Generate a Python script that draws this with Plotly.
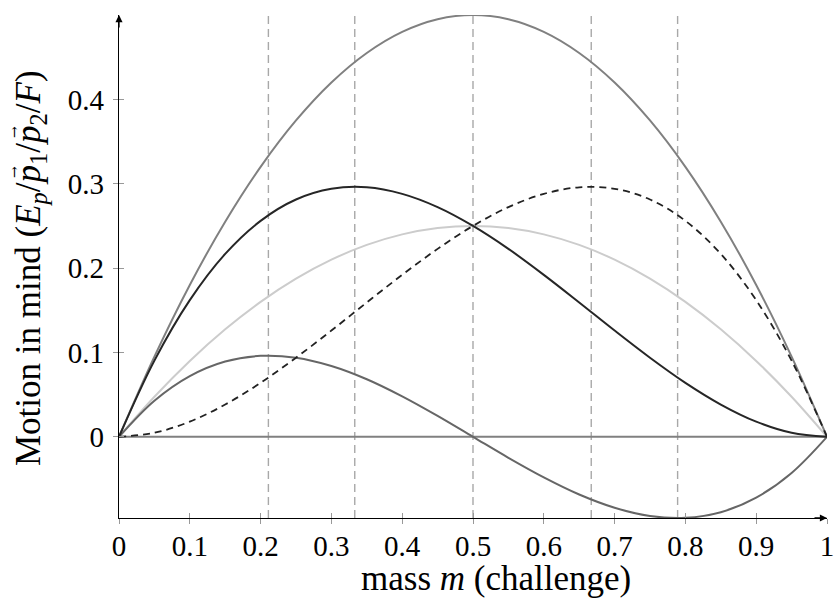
import plotly.graph_objects as go

# ---- data ----
mass = [0.0, 0.05, 0.1, 0.15, 0.2, 0.25, 0.3, 0.35, 0.4, 0.45, 0.5,
        0.55, 0.6, 0.65, 0.7, 0.75, 0.8, 0.85, 0.9, 0.95, 1.0]
top_curve = [0, 0.095, 0.18, 0.255, 0.32, 0.375, 0.42, 0.455, 0.48, 0.495, 0.5,
             0.495, 0.48, 0.455, 0.42, 0.375, 0.32, 0.255, 0.18, 0.095, 0]
left_peak = [0, 0.0903, 0.162, 0.2168, 0.256, 0.2813, 0.294, 0.2958, 0.288, 0.2723, 0.25,
             0.2228, 0.192, 0.1593, 0.126, 0.0938, 0.064, 0.0383, 0.018, 0.0048, 0]
right_peak = [0, 0.0048, 0.018, 0.0383, 0.064, 0.0938, 0.126, 0.1593, 0.192, 0.2228, 0.25,
              0.2723, 0.288, 0.2958, 0.294, 0.2813, 0.256, 0.2168, 0.162, 0.0903, 0]
mid_curve = [0, 0.0475, 0.09, 0.1275, 0.16, 0.1875, 0.21, 0.2275, 0.24, 0.2475, 0.25,
             0.2475, 0.24, 0.2275, 0.21, 0.1875, 0.16, 0.1275, 0.09, 0.0475, 0]
wave_curve = [0, 0.0428, 0.072, 0.0893, 0.096, 0.0938, 0.084, 0.0683, 0.048, 0.0248, 0,
              -0.0248, -0.048, -0.0683, -0.084, -0.0938, -0.096, -0.0893, -0.072, -0.0428, 0]
zero_x = [0, 1]
zero_y = [0, 0]
vlines = [0.211, 0.333, 0.5, 0.667, 0.789]
x_ticks = [0, 0.1, 0.2, 0.3, 0.4, 0.5, 0.6, 0.7, 0.8, 0.9, 1]
x_ticklabels = ["0", "0.1", "0.2", "0.3", "0.4", "0.5", "0.6", "0.7", "0.8", "0.9", "1"]
y_ticks = [0, 0.1, 0.2, 0.3, 0.4]
y_ticklabels = ["0", "0.1", "0.2", "0.3", "0.4"]
y_range = [-0.0962, 0.5]
x_title = "mass <i>m</i> (challenge)"
y_title = "Motion in mind (<i>E</i><sub><i>p</i></sub>/<i>p</i><sub>1</sub>/<i>p</i><sub>2</sub>/<i>F</i>)"

FONT = "Liberation Serif, DejaVu Serif, serif"
L, R, T, B = 119, 9, 15, 90
W, H = 836, 608
PW, PH = W - L - R, H - T - B

fig = go.Figure()

for v in vlines:
    fig.add_trace(go.Scatter(x=[v, v], y=y_range, mode="lines",
                             line=dict(color="#a8a8a8", width=1.4, dash="8px,5px"),
                             hoverinfo="skip", showlegend=False))

fig.add_trace(go.Scatter(x=zero_x, y=zero_y, mode="lines",
                         line=dict(color="#808080", width=2), showlegend=False))
fig.add_trace(go.Scatter(x=mass, y=mid_curve, mode="lines", line_shape="spline",
                         line=dict(color="#cccccc", width=2), showlegend=False))
fig.add_trace(go.Scatter(x=mass, y=top_curve, mode="lines", line_shape="spline",
                         line=dict(color="#808080", width=2), showlegend=False))
fig.add_trace(go.Scatter(x=mass, y=wave_curve, mode="lines", line_shape="spline",
                         line=dict(color="#666666", width=2), showlegend=False))
fig.add_trace(go.Scatter(x=mass, y=right_peak, mode="lines", line_shape="spline",
                         line=dict(color="#222222", width=1.8, dash="7px,5px"), showlegend=False))
fig.add_trace(go.Scatter(x=mass, y=left_peak, mode="lines", line_shape="spline",
                         line=dict(color="#262626", width=2), showlegend=False))

tickfont = dict(family=FONT, size=29, color="black")

fig.update_layout(
    width=W, height=H,
    margin=dict(l=L, r=R, t=T, b=B, autoexpand=False),
    paper_bgcolor="white", plot_bgcolor="white",
    font=dict(family=FONT, color="black"),
    xaxis=dict(range=[0, 1], tickvals=x_ticks, ticktext=x_ticklabels, automargin=False,
               ticks="outside", ticklen=5, tickcolor="#999999", tickwidth=1.2,
               showgrid=False, zeroline=False, showline=True, linecolor="black", linewidth=1.3,
               tickfont=tickfont, ticklabelstandoff=-3),
    yaxis=dict(range=y_range, tickvals=y_ticks, ticktext=y_ticklabels, automargin=False,
               ticks="outside", ticklen=5, tickcolor="#999999", tickwidth=1.2,
               showgrid=False, zeroline=False, showline=True, linecolor="black", linewidth=1.3,
               tickfont=tickfont, ticklabelstandoff=3),
    xaxis2=dict(range=[0, 1], overlaying="x", tickvals=x_ticks, ticks="inside", ticklen=5,
                tickcolor="#999999", tickwidth=1.2, showticklabels=False, showgrid=False,
                zeroline=False, showline=False, side="bottom", anchor="y"),
    yaxis2=dict(range=y_range, overlaying="y", tickvals=y_ticks, ticks="inside", ticklen=5,
                tickcolor="#999999", tickwidth=1.2, showticklabels=False, showgrid=False,
                zeroline=False, showline=False, side="left", anchor="x"),
)

fig.add_trace(go.Scatter(x=[None], y=[None], xaxis="x2", yaxis="y2", showlegend=False, hoverinfo="skip"))

def px_x(px):
    return (px - L) / PW

def px_y(py):
    return (H - B - py) / PH

# axis titles
fig.add_annotation(x=px_x(496), y=px_y(578), xref="paper", yref="paper", text=x_title,
                   showarrow=False, font=dict(family=FONT, size=35, color="black"),
                   xanchor="center", yanchor="middle")
fig.add_annotation(x=px_x(30), y=px_y(268), xref="paper", yref="paper", text=y_title,
                   textangle=-90, showarrow=False, font=dict(family=FONT, size=35, color="black"),
                   xanchor="center", yanchor="middle")
# vector arrows over p1 and p2
for py in (172, 132):
    fig.add_annotation(x=px_x(14), y=px_y(py), xref="paper", yref="paper", text="\u2192",
                       textangle=-90, showarrow=False, font=dict(family="DejaVu Serif", size=14, color="black"),
                       xanchor="center", yanchor="middle")

# axis arrows
fig.add_annotation(x=1, y=0, xref="paper", yref="paper", ax=-14, ay=0, axref="pixel", ayref="pixel",
                   text="", showarrow=True, arrowhead=2, arrowsize=1.1, arrowwidth=1.3, arrowcolor="black")
fig.add_annotation(x=0, y=1, xref="paper", yref="paper", ax=0, ay=14, axref="pixel", ayref="pixel",
                   text="", showarrow=True, arrowhead=2, arrowsize=1.1, arrowwidth=1.3, arrowcolor="black")

fig.write_html("out.html", config={"displayModeBar": False},
               post_script="document.body.style.margin='0';document.body.style.overflow='hidden';")
